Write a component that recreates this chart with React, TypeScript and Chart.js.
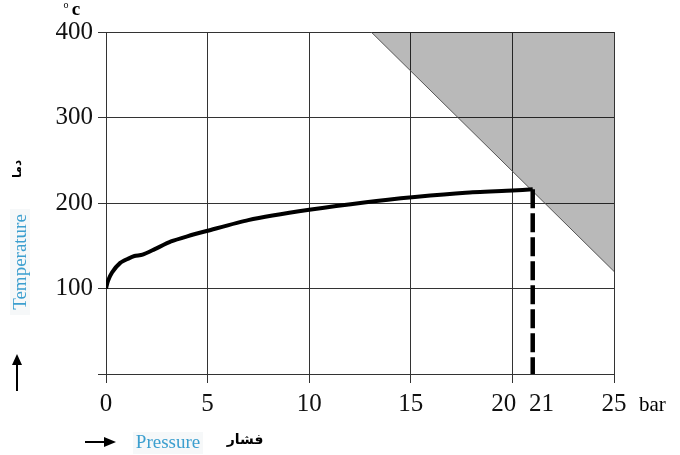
import React, { useEffect, useRef } from "react";
import { Chart, registerables } from "chart.js";

Chart.register(...registerables);

// Pressure (bar) and temperature (°C) along the curve
const pressure = [0, 0.1, 0.3, 0.7, 1.1, 1.4, 1.8, 2.4, 3.2, 4.0, 5, 7, 10, 12.8, 15.2, 17.7, 20, 21];
const temperature = [100, 109, 119, 130, 135, 138, 139.5, 146, 155, 161, 167.5, 180, 192, 201, 207, 212, 214.5, 216];
// Vertical dashed drop line at 21 bar
const dropX = [21, 21];
const dropY = [216, 0];
// Grey forbidden region boundary (filled to top)
const regionX = [13.05, 25];
const regionY = [400, 120];
// Tick values
const xTicks = [0, 5, 10, 15, 20, 21, 25];
const yTicks = [0, 100, 200, 300, 400];

const GRID = "#333333";
const BLUE = "#3c9fcf";

const textPlugin = {
  id: "annotText",
  afterDraw(chart: any) {
    const ctx = chart.ctx as CanvasRenderingContext2D;
    ctx.save();
    ctx.fillStyle = "#000";
    // °c
    ctx.textAlign = "center";
    ctx.textBaseline = "alphabetic";
    ctx.font = "10px 'Liberation Serif'";
    ctx.fillText("o", 66, 8);
    ctx.font = "bold 19px 'Liberation Serif'";
    ctx.fillText("c", 76, 15);

    // bar
    ctx.textAlign = "left";
    ctx.textBaseline = "middle";
    ctx.font = "21px 'Liberation Serif'";
    ctx.fillText("bar", 639, 405);

    // y axis titles (rotated)
    ctx.save();
    ctx.translate(18, 169);
    ctx.rotate(-Math.PI / 2);
    ctx.textAlign = "center";
    ctx.textBaseline = "middle";
    ctx.font = "bold 12px 'DejaVu Sans'";
    ctx.fillStyle = "#000";
    ctx.fillText("دما", 0, 0);
    ctx.restore();

    ctx.save();
    ctx.translate(20, 262);
    ctx.rotate(-Math.PI / 2);
    ctx.fillStyle = "#f6f8f9";
    ctx.fillRect(-53, -10, 106, 20);
    ctx.textAlign = "center";
    ctx.textBaseline = "middle";
    ctx.font = "19px 'Liberation Serif'";
    ctx.fillStyle = BLUE;
    ctx.fillText("Temperature", 0, 1);
    ctx.restore();

    // up arrow
    ctx.strokeStyle = "#000";
    ctx.fillStyle = "#000";
    ctx.lineWidth = 2;
    ctx.beginPath();
    ctx.moveTo(17, 391);
    ctx.lineTo(17, 362);
    ctx.stroke();
    ctx.beginPath();
    ctx.moveTo(17, 354);
    ctx.lineTo(12, 365);
    ctx.lineTo(22, 365);
    ctx.closePath();
    ctx.fill();

    // right arrow
    ctx.beginPath();
    ctx.moveTo(85, 442);
    ctx.lineTo(107, 442);
    ctx.stroke();
    ctx.beginPath();
    ctx.moveTo(116, 442);
    ctx.lineTo(104, 437);
    ctx.lineTo(104, 447);
    ctx.closePath();
    ctx.fill();

    // Pressure
    ctx.fillStyle = "#f6f8f9";
    ctx.fillRect(133, 432, 70, 22);
    ctx.textAlign = "center";
    ctx.textBaseline = "middle";
    ctx.font = "19px 'Liberation Serif'";
    ctx.fillStyle = BLUE;
    ctx.fillText("Pressure", 168, 443);

    // فشار
    ctx.font = "bold 14px 'DejaVu Sans'";
    ctx.fillStyle = "#000";
    ctx.fillText("فشار", 245, 440);
    ctx.restore();
  },
};

export default function App() {
  const ref = useRef<HTMLCanvasElement | null>(null);

  useEffect(() => {
    if (!ref.current) return;
    const curve = pressure.map((x, i) => ({ x, y: temperature[i] }));
    const drop = dropX.map((x, i) => ({ x, y: dropY[i] }));
    const region = regionX.map((x, i) => ({ x, y: regionY[i] }));

    const chart = new Chart(ref.current, {
      type: "line",
      data: {
        datasets: [
          {
            data: drop,
            borderColor: "#000",
            borderWidth: 4.5,
            borderDash: [19, 5],
            pointRadius: 0,
            fill: false,
            order: 0,
          },
          {
            data: curve,
            borderColor: "#000",
            borderWidth: 4,
            pointRadius: 0,
            tension: 0.2,
            borderJoinStyle: "miter",
            fill: false,
            order: 1,
          },
          {
            data: region,
            borderColor: "#555",
            borderWidth: 1,
            pointRadius: 0,
            backgroundColor: "rgba(0,0,0,0.275)",
            fill: "end",
            order: 2,
          },
        ],
      },
      options: {
        animation: false,
        responsive: false,
        events: [],
        layout: { padding: { left: 0, top: 32, right: 66, bottom: 0 } },
        plugins: { legend: { display: false }, tooltip: { enabled: false } },
        scales: {
          x: {
            type: "linear",
            min: 0,
            max: 25,
            afterBuildTicks: (scale: any) => {
              scale.ticks = xTicks.map((v) => ({ value: v }));
            },
            afterFit: (scale: any) => {
              scale.height = 81;
            },
            grid: {
              color: (c: any) => (c.tick && c.tick.value === 21 ? "rgba(0,0,0,0)" : GRID),
              tickColor: (c: any) => (c.tick && c.tick.value === 21 ? "rgba(0,0,0,0)" : GRID),
              lineWidth: 1,
              tickLength: 9,
            },
            border: { color: GRID, width: 1 },
            ticks: {
              autoSkip: false,
              maxRotation: 0,
              padding: 6,
              color: "#111",
              font: { family: "'Liberation Serif'", size: 25 },
              callback: (v: any) => {
                if (v === 20) return "20\u2002\u2009";
                if (v === 21) return "\u2002\u200921";
                return String(v);
              },
            },
          },
          y: {
            type: "linear",
            min: 0,
            max: 400,
            afterBuildTicks: (scale: any) => {
              scale.ticks = yTicks.map((v) => ({ value: v }));
            },
            afterFit: (scale: any) => {
              scale.width = 106;
            },
            grid: { color: GRID, tickColor: GRID, lineWidth: 1, tickLength: 8 },
            border: { color: GRID, width: 1 },
            ticks: {
              padding: 5,
              color: "#111",
              font: { family: "'Liberation Serif'", size: 25 },
              callback: (v: any) => (v === 0 ? "" : String(v)),
            },
          },
        },
      },
      plugins: [textPlugin],
    });
    return () => chart.destroy();
  }, []);

  return (
    <div style={{ position: "fixed", left: 0, top: 0, width: 680, height: 455, background: "#fff" }}>
      <canvas ref={ref} width={680} height={455} style={{ width: 680, height: 455 }} />
    </div>
  );
}
